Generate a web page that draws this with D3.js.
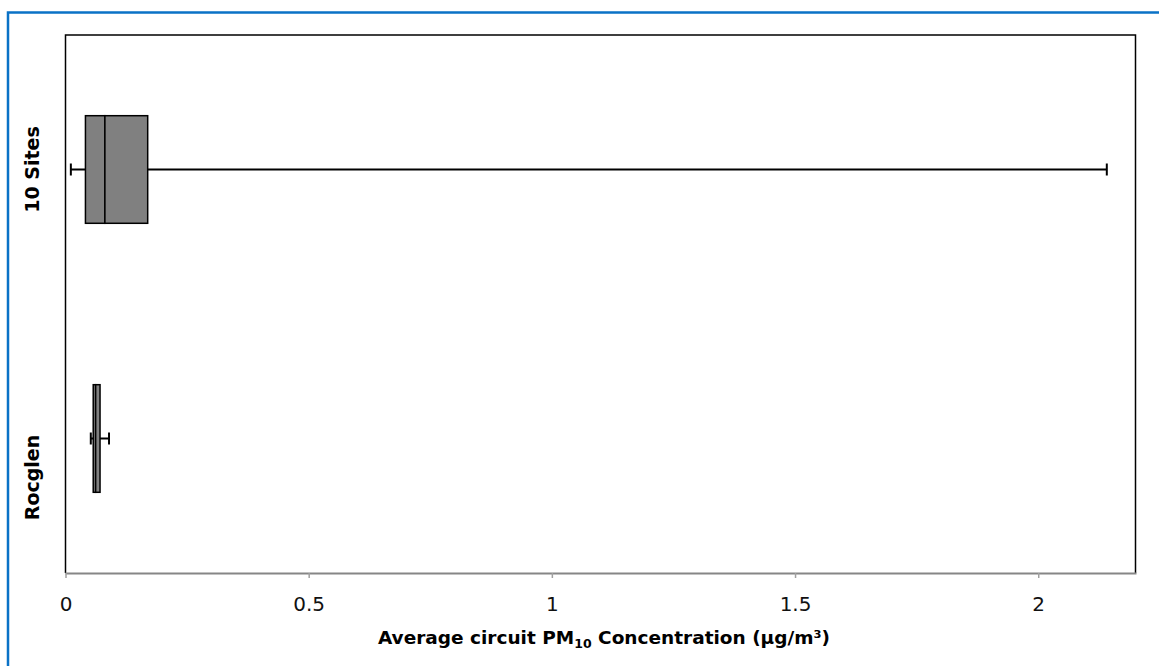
<!DOCTYPE html>
<html>
<head>
<meta charset="utf-8">
<script src="https://cdn.jsdelivr.net/npm/d3@7"></script>
<style>
  html, body { margin: 0; padding: 0; background: #fff; }
  svg { display: block; }
</style>
</head>
<body>
<svg id="chart" width="1159" height="666"></svg>
<script>
// Box-plot summary of average circuit PM10 concentrations (µg/m³)
const categories = ["10 Sites", "Rocglen"];
const whiskerMin = [0.011, 0.052];
const quartile1  = [0.041, 0.057];
const medians    = [0.081, 0.062];
const quartile3  = [0.169, 0.071];
const whiskerMax = [2.141, 0.0895];
const xTicks     = [0, 0.5, 1, 1.5, 2];
const xTickLabels = ["0", "0.5", "1", "1.5", "2"];

const svg = d3.select("#chart");
const W = 1159, H = 666;
const plot = { left: 65.5, right: 1135.5, top: 35, bottom: 573 };

// outer frame (top and left edges visible)
svg.append("path")
  .attr("d", `M8,${H} V12.5 H${W}`)
  .attr("fill", "none")
  .attr("stroke", "#0A72C6")
  .attr("stroke-width", 2.5);

const x = d3.scaleLinear().domain([0, 2.2]).range([plot.left, plot.right]);
const y = d3.scaleBand().domain(categories).range([plot.top, plot.bottom]).paddingInner(0).paddingOuter(0);

const g = svg.append("g");

// plot frame: top, left and right edges
g.append("path")
  .attr("d", `M${plot.left},${plot.bottom} V${plot.top} H${plot.right} V${plot.bottom}`)
  .attr("fill", "none")
  .attr("stroke", "#000")
  .attr("stroke-width", 1.5);

// x axis
const xAxis = d3.axisBottom(x)
  .tickValues(xTicks)
  .tickFormat((d, i) => xTickLabels[i])
  .tickSize(5)
  .tickSizeOuter(0)
  .tickPadding(19);
const ax = g.append("g")
  .attr("transform", `translate(0,${plot.bottom})`)
  .call(xAxis);
ax.select(".domain").attr("stroke", "#868686").attr("stroke-width", 2)
  .attr("d", `M${plot.left},0.5H${plot.right + 1}`);
ax.selectAll(".tick line").attr("stroke", "#a0a0a0").attr("stroke-width", 1.5);
ax.selectAll(".tick text")
  .attr("fill", "#111")
  .style("font-family", "'DejaVu Sans', sans-serif")
  .style("font-size", "20px")
  .style("font-weight", "normal");

// axis title with subscript
const title = g.append("text")
  .attr("x", 604)
  .attr("y", 644)
  .attr("text-anchor", "middle")
  .style("font-family", "'DejaVu Sans', sans-serif")
  .style("font-weight", "bold")
  .style("font-size", "18.5px")
  .attr("fill", "#000");
title.append("tspan").text("Average circuit PM");
title.append("tspan").attr("dy", 4).style("font-size", "12.5px").text("10");
title.append("tspan").attr("dy", -4).text(" Concentration (µg/m³)");

// category labels (rotated)
const labelShift = { "10 Sites": 0, "Rocglen": 39 };
g.selectAll(".cat-label")
  .data(categories)
  .join("text")
  .attr("class", "cat-label")
  .attr("transform", d => `translate(39,${y(d) + y.bandwidth() / 2 + labelShift[d]}) rotate(-90)`)
  .attr("text-anchor", "middle")
  .style("font-family", "'DejaVu Sans', sans-serif")
  .style("font-weight", "bold")
  .style("font-size", "19px")
  .attr("fill", "#000")
  .text(d => d);

// boxes
const boxH = y.bandwidth() * 0.4;
const capH = 12;
const rows = categories.map((c, i) => ({
  c, lo: whiskerMin[i], q1: quartile1[i], med: medians[i], q3: quartile3[i], hi: whiskerMax[i]
}));

const box = g.selectAll(".box").data(rows).join("g").attr("class", "box")
  .attr("transform", d => `translate(0,${y(d.c) + y.bandwidth() / 2})`);

// whiskers
box.append("line")
  .attr("x1", d => x(d.lo)).attr("x2", d => x(d.hi))
  .attr("y1", 0).attr("y2", 0)
  .attr("stroke", "#000").attr("stroke-width", 2);
box.append("line")
  .attr("x1", d => x(d.lo)).attr("x2", d => x(d.lo))
  .attr("y1", -capH / 2).attr("y2", capH / 2)
  .attr("stroke", "#000").attr("stroke-width", 2);
box.append("line")
  .attr("x1", d => x(d.hi)).attr("x2", d => x(d.hi))
  .attr("y1", -capH / 2).attr("y2", capH / 2)
  .attr("stroke", "#000").attr("stroke-width", 2);

// lower and upper box halves
box.append("rect")
  .attr("x", d => x(d.q1)).attr("width", d => x(d.med) - x(d.q1))
  .attr("y", -boxH / 2).attr("height", boxH)
  .attr("fill", "#808080").attr("stroke", "#000").attr("stroke-width", 1.5);
box.append("rect")
  .attr("x", d => x(d.med)).attr("width", d => x(d.q3) - x(d.med))
  .attr("y", -boxH / 2).attr("height", boxH)
  .attr("fill", "#808080").attr("stroke", "#000").attr("stroke-width", 1.5);
</script>
</body>
</html>
